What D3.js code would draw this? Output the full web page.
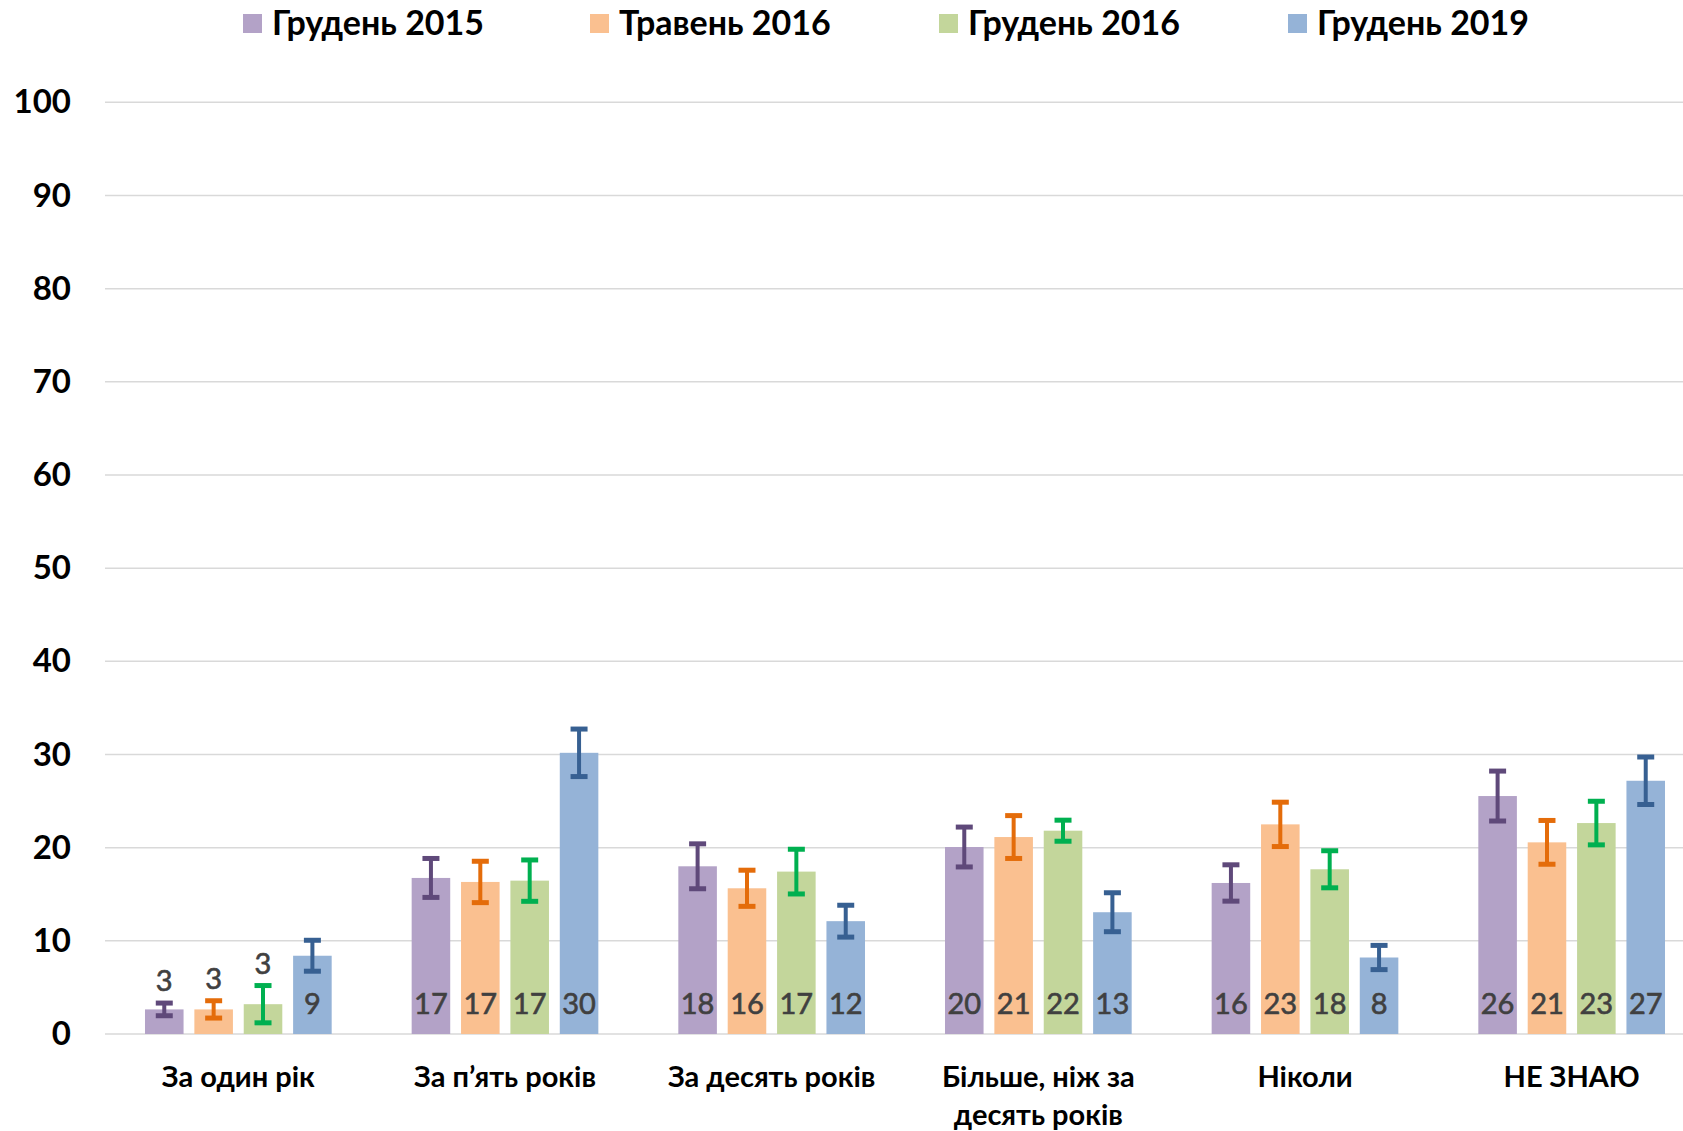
<!DOCTYPE html>
<html>
<head>
<meta charset="utf-8">
<script src="https://cdn.jsdelivr.net/npm/d3@7"></script>
<style>
  html, body { margin: 0; padding: 0; background: #fff; }
  svg { display: block; font-family: Lato, "Open Sans", "Noto Sans", sans-serif; }
</style>
</head>
<body>
<svg id="chart" width="1683" height="1131"></svg>
<script>
// ---- data ----
const categories = ["За один рік", "За п’ять років", "За десять років", "Більше, ніж за десять років", "Ніколи", "НЕ ЗНАЮ"];
const seriesNames = ["Грудень 2015", "Травень 2016", "Грудень 2016", "Грудень 2019"];
const dec2015 = [2.64, 16.75, 18.0, 20.07, 16.21, 25.54];
const may2016 = [2.64, 16.32, 15.64, 21.14, 22.5, 20.57];
const dec2016 = [3.2, 16.46, 17.43, 21.82, 17.68, 22.64];
const dec2019 = [8.4, 30.18, 12.11, 13.07, 8.21, 27.18];
const labels2015 = [3, 17, 18, 20, 16, 26];
const labelsMay2016 = [3, 17, 16, 21, 23, 21];
const labelsDec2016 = [3, 17, 17, 22, 18, 23];
const labels2019 = [9, 30, 12, 13, 8, 27];
const err2015 = [0.68, 2.09, 2.41, 2.14, 1.95, 2.68];
const errMay2016 = [0.93, 2.22, 1.94, 2.3, 2.38, 2.35];
const errDec2016 = [2.0, 2.22, 2.4, 1.13, 1.99, 2.34];
const err2019 = [1.66, 2.55, 1.71, 2.09, 1.3, 2.55];
const yTicks = [0, 10, 20, 30, 40, 50, 60, 70, 80, 90, 100];

// ---- styles ----
const barColors = ["#B3A2C7", "#FAC090", "#C3D69B", "#95B3D7"];
const errColors = ["#5F497A", "#E46C0A", "#00B050", "#376092"];

const valuesBySeries = [dec2015, may2016, dec2016, dec2019];
const labelsBySeries = [labels2015, labelsMay2016, labelsDec2016, labels2019];
const errBySeries = [err2015, errMay2016, errDec2016, err2019];

const svg = d3.select("#chart");

const y = d3.scaleLinear().domain([0, 100]).range([1034, 102.3]);
const x0 = d3.scaleBand().domain(categories).range([105, 1705]).padding(0);
const x1 = d3.scaleBand().domain(seriesNames).range([0, x0.bandwidth()])
  .paddingInner(0.219).paddingOuter(0.81);

// gridlines
svg.append("g").selectAll("line").data(yTicks).join("line")
  .attr("x1", 105).attr("x2", 1683)
  .attr("y1", d => y(d)).attr("y2", d => y(d))
  .attr("stroke", "#D9D9D9").attr("stroke-width", 1.5);

// y axis labels
const yAxis = d3.axisLeft(y).tickValues(yTicks).tickSize(0).tickPadding(0);
const yg = svg.append("g").attr("transform", "translate(71,0)").call(yAxis);
yg.select(".domain").remove();
yg.selectAll("text").attr("font-size", 33).attr("font-weight", "bold")
  .attr("fill", "#000").attr("font-family", "Lato, 'Open Sans', sans-serif");

// bars
const rows = [];
seriesNames.forEach((s, si) => {
  categories.forEach((c, ci) => {
    rows.push({ s, si, c, v: valuesBySeries[si][ci], lab: labelsBySeries[si][ci], e: errBySeries[si][ci] });
  });
});

svg.append("g").selectAll("rect").data(rows).join("rect")
  .attr("x", d => x0(d.c) + x1(d.s))
  .attr("width", x1.bandwidth())
  .attr("y", d => y(d.v))
  .attr("height", d => y(0) - y(d.v))
  .attr("fill", d => barColors[d.si]);

// error bars
const capW = 17;
const eg = svg.append("g");
rows.forEach(d => {
  const cx = x0(d.c) + x1(d.s) + x1.bandwidth() / 2;
  const col = errColors[d.si];
  eg.append("line").attr("x1", cx).attr("x2", cx)
    .attr("y1", y(d.v + d.e)).attr("y2", y(d.v - d.e))
    .attr("stroke", col).attr("stroke-width", 4);
  [d.v + d.e, d.v - d.e].forEach(t => {
    eg.append("line").attr("x1", cx - capW / 2).attr("x2", cx + capW / 2)
      .attr("y1", y(t)).attr("y2", y(t))
      .attr("stroke", col).attr("stroke-width", 5);
  });
});

// data labels
svg.append("g").selectAll("text").data(rows).join("text")
  .attr("x", d => x0(d.c) + x1(d.s) + x1.bandwidth() / 2)
  .attr("y", d => (y(0) - y(d.v) < 40) ? y(d.v + d.e) - 12 : y(0) - 20)
  .attr("text-anchor", "middle")
  .attr("font-size", 29)
  .attr("fill", "#404040")
  .attr("stroke", "#404040")
  .attr("stroke-width", 0.6)
  .text(d => d.lab);

// category labels
svg.append("g").selectAll("text").data(categories).join("text")
  .attr("x", d => x0(d) + x0.bandwidth() / 2)
  .attr("y", 1087)
  .attr("text-anchor", "middle")
  .attr("font-size", 29)
  .attr("font-weight", "bold")
  .attr("fill", "#000")
  .each(function(d) {
    const t = d3.select(this);
    const words = d.split(" ");
    let line = [];
    let tspan = t.append("tspan").attr("x", x0(d) + x0.bandwidth() / 2).attr("dy", 0);
    words.forEach(w => {
      line.push(w);
      tspan.text(line.join(" "));
      if (tspan.node().getComputedTextLength() > 245 && line.length > 1) {
        line.pop();
        tspan.text(line.join(" "));
        line = [w];
        tspan = t.append("tspan").attr("x", x0(d) + x0.bandwidth() / 2).attr("dy", 38).text(w);
      }
    });
  });

// legend
const legendX = [243, 590, 939, 1288];
const lg = svg.append("g").selectAll("g").data(seriesNames).join("g")
  .attr("transform", (d, i) => `translate(${legendX[i]},0)`);
lg.append("rect").attr("x", 0).attr("y", 14).attr("width", 19).attr("height", 19)
  .attr("fill", (d, i) => barColors[i]);
lg.append("text").attr("x", 29).attr("y", 35)
  .attr("font-size", 34).attr("font-weight", "bold").attr("fill", "#000")
  .text(d => d);
</script>
</body>
</html>
